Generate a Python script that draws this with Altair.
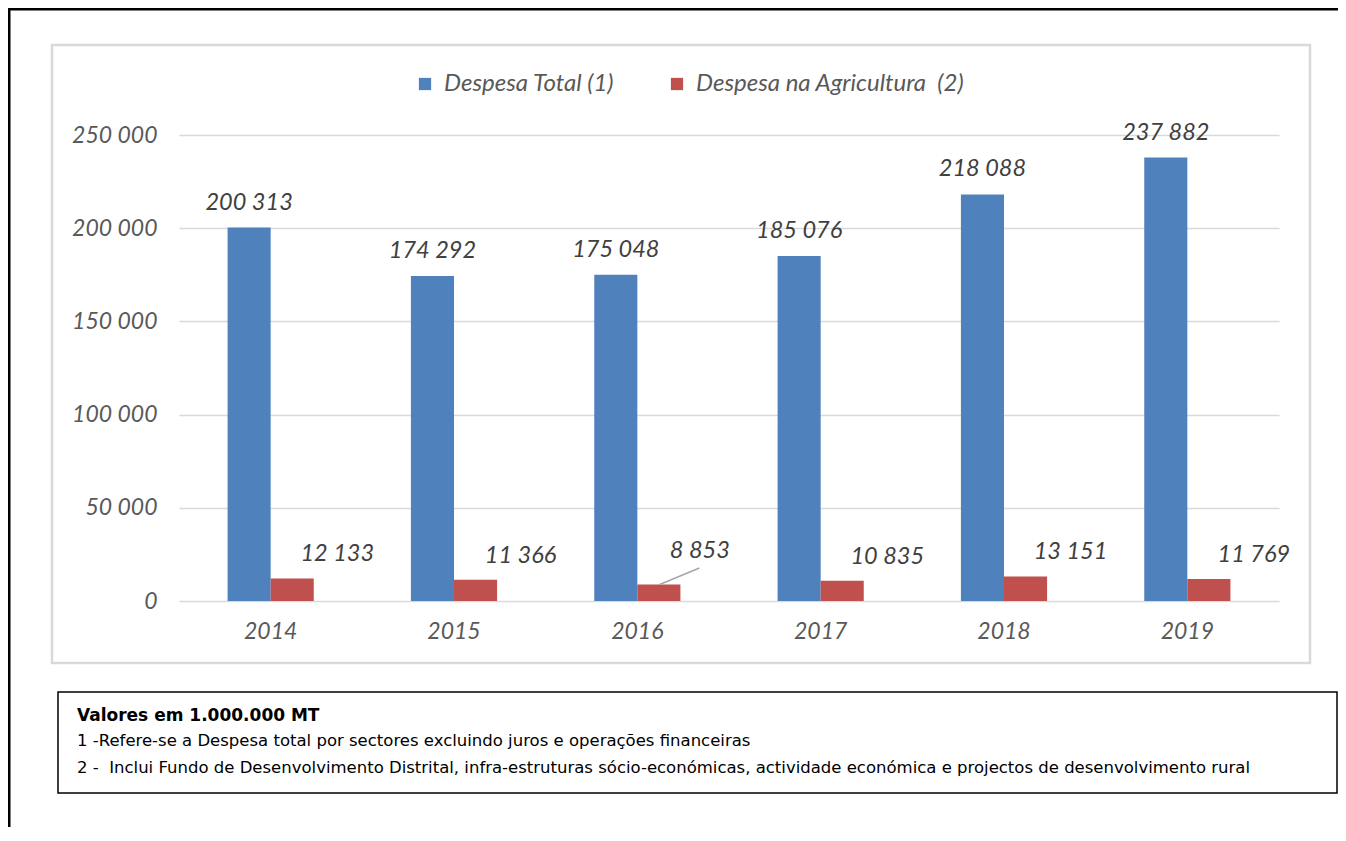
import altair as alt
import pandas as pd

years = ["2014", "2015", "2016", "2017", "2018", "2019"]
despesa_total = [200313, 174292, 175048, 185076, 218088, 237882]
despesa_agric = [12133, 11366, 8853, 10835, 13151, 11769]
series_names = ["Despesa Total (1)", "Despesa na Agricultura \u00a0(2)"]
series_colors = ["#4f81bd", "#c0504d"]
y_ticks = [0, 50000, 100000, 150000, 200000, 250000]
leader_year = "2016"
note_title = "Valores em 1.000.000 MT"
note_1 = "1 -Refere-se a Despesa total por sectores excluindo juros e operações financeiras"
note_2 = "2 - \u00a0Inclui Fundo de Desenvolvimento Distrital, infra-estruturas sócio-económicas, actividade económica e projectos de desenvolvimento rural"

rows = []
for i, y in enumerate(years):
    rows.append({"year": y, "series": series_names[0], "value": despesa_total[i]})
    rows.append({"year": y, "series": series_names[1], "value": despesa_agric[i]})
df = pd.DataFrame(rows)

W, H = 1100, 466
FONT = "Lato"
GRAY = "#595959"

xscale = alt.Scale(paddingInner=0.06, paddingOuter=0.03)
xenc = alt.X("year:N", sort=years, title=None, scale=xscale,
             axis=alt.Axis(labelFont=FONT, labelFontStyle="italic", labelFontSize=23,
                           labelColor=GRAY, labelPadding=19, ticks=False, domain=False,
                           labelAngle=0, grid=False))
xoff = alt.XOffset("series:N", sort=series_names,
                   scale=alt.Scale(paddingInner=0, paddingOuter=1))
yenc = alt.Y("value:Q", title=None,
             scale=alt.Scale(domain=[0, 250000], nice=False),
             axis=alt.Axis(values=y_ticks, labelFont=FONT, labelFontStyle="italic",
                           labelFontSize=23, labelColor=GRAY, labelPadding=22,
                           ticks=False, domain=False, gridColor="#d9d9d9", gridWidth=1.5,
                           labelExpr="replace(format(datum.value, ','), regexp(',', 'g'), ' ')"))

base = alt.Chart(df).transform_calculate(
    label="replace(format(datum.value, ','), regexp(',', 'g'), ' ')"
)

bars = base.mark_bar().encode(
    x=xenc, xOffset=xoff, y=yenc,
    color=alt.Color("series:N", sort=series_names,
                    scale=alt.Scale(domain=series_names, range=series_colors),
                    legend=alt.Legend(title=None, orient="none", direction="horizontal",
                                      legendX=234, legendY=-63, symbolType="square",
                                      symbolSize=150, symbolStrokeWidth=0,
                                      labelFont=FONT, labelFontStyle="italic",
                                      labelFontSize=24, labelColor=GRAY,
                                      labelOffset=7, columnPadding=50,
                                      labelLimit=400)),
)

lbl_total = base.transform_filter(alt.datum.series == series_names[0]).mark_text(
    font=FONT, fontStyle="italic", fontSize=23.5, color="#404040",
    baseline="bottom", dy=-13
).encode(x=xenc, xOffset=xoff, y=yenc, text="label:N")

lbl_agric = base.transform_filter(
    (alt.datum.series == series_names[1]) & (alt.datum.year != leader_year)
).mark_text(
    font=FONT, fontStyle="italic", fontSize=23.5, color="#404040",
    baseline="bottom", dy=-12, dx=45
).encode(x=xenc, xOffset=xoff, y=yenc, text="label:N")

lbl_leader = base.transform_filter(
    (alt.datum.series == series_names[1]) & (alt.datum.year == leader_year)
).mark_text(
    font=FONT, fontStyle="italic", fontSize=23.5, color="#404040",
    baseline="bottom", dy=-21, dx=41
).encode(x=xenc, xOffset=xoff, y=yenc, text="label:N")

leader = base.transform_filter(
    (alt.datum.series == series_names[1]) & (alt.datum.year == leader_year)
).transform_calculate(top="datum.value * 2").mark_rule(
    color="#a6a6a6", strokeWidth=1.5
).encode(
    x=alt.X("year:N", sort=years, scale=xscale, bandPosition=0.63),
    x2=alt.X2("year", bandPosition=0.86),
    y=yenc, y2=alt.Y2("top:Q"),
)

one = pd.DataFrame({"a": [0]})

inner_box = alt.Chart(one).mark_rect(fill=None, stroke="#d9d9d9", strokeWidth=2.5).encode(
    x=alt.value(-127), x2=alt.value(1131), y=alt.value(-90), y2=alt.value(528))

outer_top = alt.Chart(one).mark_rule(color="black", strokeWidth=3).encode(
    x=alt.value(-171), x2=alt.value(1200), y=alt.value(-126))
outer_left = alt.Chart(one).mark_rule(color="black", strokeWidth=3).encode(
    x=alt.value(-170), y=alt.value(-127), y2=alt.value(720))

note_box = alt.Chart(one).mark_rect(fill="white", stroke="black", strokeWidth=1.5).encode(
    x=alt.value(-121), x2=alt.value(1158), y=alt.value(557), y2=alt.value(658))

def note(txt, y, size, bold=False):
    return alt.Chart(pd.DataFrame({"t": [txt]})).mark_text(
        font="DejaVu Sans", fontSize=size, fontWeight="bold" if bold else "normal",
        color="black", align="left", baseline="middle"
    ).encode(text="t:N", x=alt.value(-102), y=alt.value(y))

chart = alt.layer(
    inner_box, outer_top, outer_left, bars, leader, lbl_total, lbl_agric, lbl_leader,
    note_box,
    note(note_title, 581, 17, True), note(note_1, 606, 16.5), note(note_2, 633, 16.5)
).properties(
    width=W, height=H,
    autosize=alt.AutoSizeParams(type="none"),
    padding={"left": 171, "top": 127, "right": 59, "bottom": 226},
    background="white"
).configure_view(stroke=None)

chart.save("out.html", embed_options={"renderer": "svg", "actions": False})
